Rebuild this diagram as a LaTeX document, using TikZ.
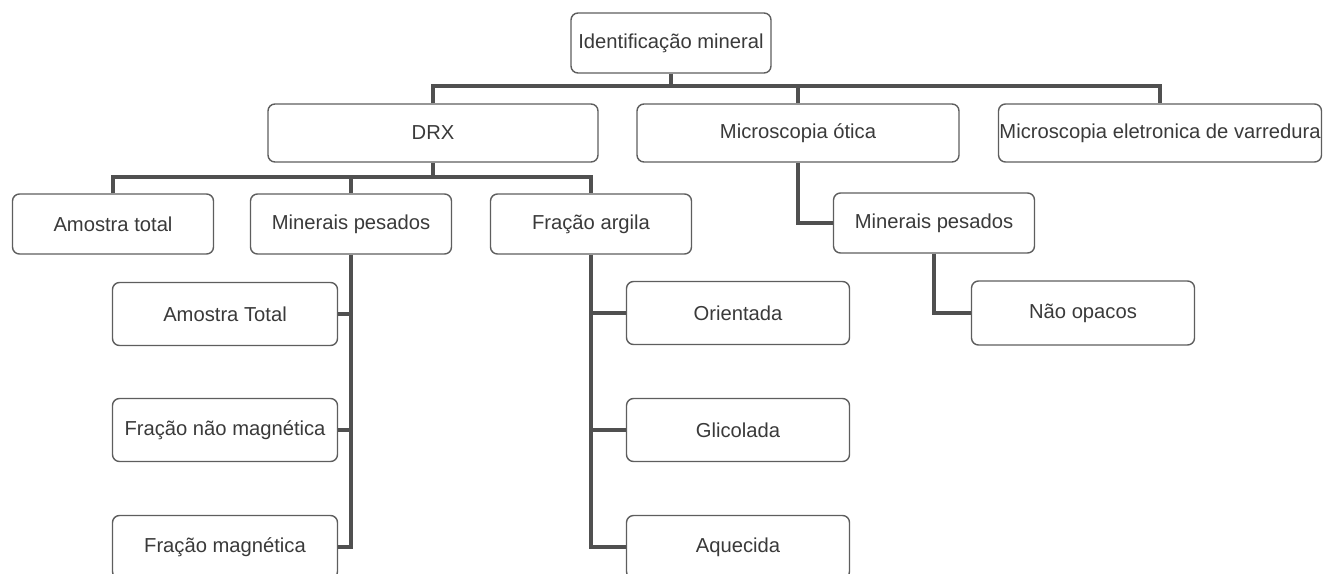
\documentclass[tikz,border=0pt]{standalone}
\usepackage{fontspec}
\setmainfont{Liberation Sans}
\definecolor{boxgray}{HTML}{5E5E5E}
\definecolor{linkgray}{HTML}{505050}
\definecolor{txtgray}{HTML}{3A3A3A}
\begin{document}
\begin{tikzpicture}[x=1pt,y=-1pt,
   box/.style={draw=boxgray,line width=1.4pt,rounded corners=7pt,fill=white,text=txtgray,
     font=\fontsize{20.2}{22}\selectfont,inner sep=0pt,minimum height=58pt},
   link/.style={draw=linkgray,line width=4pt}]
   \useasboundingbox (0,0) rectangle (1327,573);
   \clip (0,0) rectangle (1327,573);
   %root
   \node[box,minimum width=200pt,minimum height=60pt] (root) at (671,43) {Identificação mineral};
   %methods
   \node[box,minimum width=330pt] (drx) at (433,133) {DRX};
   \node[box,minimum width=322pt] (mo) at (798,133) {Microscopia ótica};
   \node[box,minimum width=323pt] (mev) at (1160,133) {Microscopia eletronica de varredura};
   %DRX
   \node[box,minimum width=201pt,minimum height=60pt] (total) at (113,224) {Amostra total};
   \node[box,minimum width=201pt,minimum height=60pt] (mpdrx) at (351,224) {Minerais pesados};
   \node[box,minimum width=201pt,minimum height=60pt] (argila) at (591,224) {Fração argila};
   %optics
   \node[box,minimum width=201pt,minimum height=60pt] (mpmo) at (934,223) {Minerais pesados};
   \node[box,minimum width=223pt,minimum height=64pt] (naoop) at (1083,313) {Não opacos};
   %heavy minerals
   \node[box,minimum width=225pt,minimum height=63pt] (amtot) at (225,314) {Amostra Total};
   \node[box,minimum width=225pt,minimum height=63pt] (fnm) at (225,430) {Fração não magnética};
   \node[box,minimum width=225pt,minimum height=63pt] (fm) at (225,547) {Fração magnética};
   %clay
   \node[box,minimum width=223pt,minimum height=63pt] (orient) at (738,313) {Orientada};
   \node[box,minimum width=223pt,minimum height=63pt] (glic) at (738,430) {Glicolada};
   \node[box,minimum width=223pt,minimum height=63pt] (aquec) at (738,547) {Aquecida};
   %links
   \coordinate (topbar) at (0,86);
   \coordinate (drxbar) at (0,177);
   \draw[link] (root.south) -- (root.south |- topbar);
   \draw[link] (drx.north) -- (drx.north |- topbar) -| (mev.north);
   \draw[link] (mo.north) -- (mo.north |- topbar);
   \draw[link] (drx.south) -- (drx.south |- drxbar);
   \draw[link] (total.north) -- (total.north |- drxbar) -| (argila.north);
   \draw[link] (mpdrx.north) -- (mpdrx.north |- drxbar);
   \draw[link] (mo.south) |- (mpmo.west);
   \draw[link] (mpmo.south) |- (naoop.west);
   \draw[link] (mpdrx.south) |- (fm.east);
   \draw[link] (amtot.east) -- (amtot.east -| mpdrx.south);
   \draw[link] (fnm.east) -- (fnm.east -| mpdrx.south);
   \draw[link] (argila.south) |- (aquec.west);
   \draw[link] (orient.west) -- (orient.west -| argila.south);
   \draw[link] (glic.west) -- (glic.west -| argila.south);
\end{tikzpicture}
\end{document}
